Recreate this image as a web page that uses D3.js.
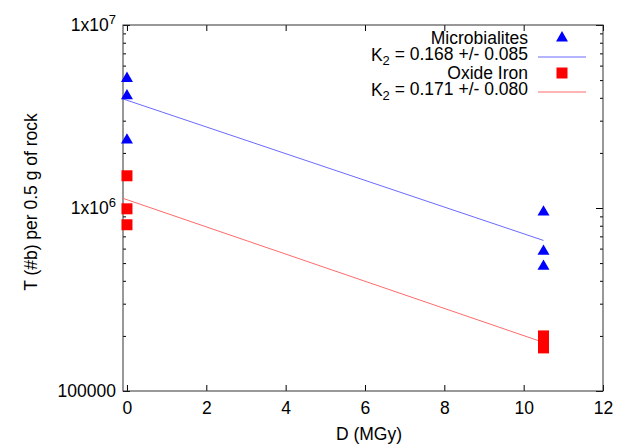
<!DOCTYPE html>
<html>
<head>
<meta charset="utf-8">
<script src="https://cdn.jsdelivr.net/npm/d3@7"></script>
<style>
  body { margin: 0; background: #fff; }
  svg { font-family: "Liberation Sans", Arial, sans-serif; }
</style>
</head>
<body>
<svg id="chart"></svg>
<script>
// data
const doseMicro = [0, 0, 0, 10.5, 10.5, 10.5]
const countMicro = [5.1e6, 4.1e6, 2.35e6, 9.5e5, 5.8e5, 4.8e5]
const doseOxide = [0, 0, 0, 10.5, 10.5, 10.5]
const countOxide = [1.5e6, 9.9e5, 8.1e5, 2.0e5, 1.85e5, 1.72e5]

// exponential fits T = A * exp(-K2 * D)
const fitNames = ["Microbialites", "Oxide Iron"]
const fitA = [3.88e6, 1.11e6]
const fitK = [0.168, 0.171]
const fitErr = [0.085, 0.080]
const fitRange = [-0.1, 10.5]

const xTicks = [0, 2, 4, 6, 8, 10, 12]
const yTicks = [1e5, 1e6, 1e7]

const width = 622
const height = 444
const pLeft = 123, pRight = 603, pTop = 25, pBottom = 391

const svg = d3.select("#chart")
  .attr("width", width)
  .attr("height", height)

const x = d3.scaleLinear().domain([-0.1, 12]).range([pLeft, pRight])
const y = d3.scaleLog().domain([1e5, 1e7]).range([pBottom, pTop])

const minor = []
for (let dec = 1e5; dec < 1e7; dec *= 10) {
  for (let m = 2; m <= 9; m++) minor.push(dec * m)
}

const font = 17.5

// axes with inward ticks, mirrored on top/right
svg.append("g")
  .attr("transform", "translate(0," + pBottom + ")")
  .call(d3.axisBottom(x).tickValues(xTicks).tickSizeInner(-6).tickSizeOuter(0).tickPadding(11))
  .call(g => g.select(".domain").remove())
  .call(g => g.selectAll("text").style("font-size", font + "px").attr("fill", "#000"))

svg.append("g")
  .attr("transform", "translate(0," + pTop + ")")
  .call(d3.axisTop(x).tickValues(xTicks).tickSizeInner(-6).tickSizeOuter(0).tickFormat(""))
  .call(g => g.select(".domain").remove())

svg.append("g")
  .attr("transform", "translate(" + pLeft + ",0)")
  .call(d3.axisLeft(y).tickValues(yTicks).tickSizeInner(-7).tickSizeOuter(0).tickPadding(7).tickFormat(""))
  .call(g => g.select(".domain").remove())
  .call(g => g.selectAll(".tick text").each(function (d) {
    const t = d3.select(this).style("font-size", font + "px").attr("fill", "#000")
    const e = Math.round(Math.log10(d))
    if (e === 5) {
      t.text("100000")
    } else {
      t.append("tspan").text("1x10")
      t.append("tspan").attr("dy", "-0.55em").style("font-size", "13px").text(e)
    }
  }))

svg.append("g")
  .attr("transform", "translate(" + pLeft + ",0)")
  .call(d3.axisLeft(y).tickValues(minor).tickSizeInner(-3).tickSizeOuter(0).tickFormat(""))
  .call(g => g.select(".domain").remove())

svg.append("g")
  .attr("transform", "translate(" + pRight + ",0)")
  .call(d3.axisRight(y).tickValues(yTicks).tickSizeInner(-7).tickSizeOuter(0).tickFormat(""))
  .call(g => g.select(".domain").remove())

svg.append("g")
  .attr("transform", "translate(" + pRight + ",0)")
  .call(d3.axisRight(y).tickValues(minor).tickSizeInner(-3).tickSizeOuter(0).tickFormat(""))
  .call(g => g.select(".domain").remove())

// frame
svg.append("rect")
  .attr("x", pLeft).attr("y", pTop)
  .attr("width", pRight - pLeft).attr("height", pBottom - pTop)
  .attr("fill", "none")
  .attr("stroke", "#333")
  .attr("stroke-width", 1)

// axis titles
svg.append("text")
  .attr("x", 369)
  .attr("y", 440)
  .attr("text-anchor", "middle")
  .style("font-size", font + "px")
  .text("D (MGy)")

svg.append("text")
  .attr("transform", "translate(37," + 202 + ") rotate(-90)")
  .attr("text-anchor", "middle")
  .style("font-size", font + "px")
  .text("T (#b) per 0.5 g of rock")

// fit lines
const lineColors = ["#6a6aff", "#ff6a6a"]
const fitLine = d3.line().x(d => x(d[0])).y(d => y(d[1]))

fitA.forEach((a, i) => {
  const pts = fitRange.map(d => [d, a * Math.exp(-fitK[i] * d)])
  svg.append("path")
    .attr("d", fitLine(pts))
    .attr("fill", "none")
    .attr("stroke", lineColors[i])
    .attr("stroke-width", 1)
})

// points
const tri = d3.symbol().type(d3.symbolTriangle).size(62)
const sq = d3.symbol().type(d3.symbolSquare).size(121)

svg.append("g").selectAll("path")
  .data(d3.zip(doseMicro, countMicro))
  .enter().append("path")
  .attr("d", tri)
  .attr("transform", d => "translate(" + x(d[0]) + "," + y(d[1]) + ")")
  .attr("fill", "#0000ff")

svg.append("g").selectAll("path")
  .data(d3.zip(doseOxide, countOxide))
  .enter().append("path")
  .attr("d", sq)
  .attr("transform", d => "translate(" + x(d[0]) + "," + y(d[1]) + ")")
  .attr("fill", "#ff0000")

// legend
const legend = svg.append("g")
const textX = 528
const rowY = [44, 61, 79, 96]

fitNames.forEach((name, i) => {
  const y1 = rowY[i * 2], y2 = rowY[i * 2 + 1]
  legend.append("text")
    .attr("x", textX).attr("y", y1)
    .attr("text-anchor", "end")
    .style("font-size", font + "px")
    .text(name)
  legend.append("path")
    .attr("d", i === 0 ? tri : sq)
    .attr("transform", "translate(562," + (y1 - 6) + ")")
    .attr("fill", i === 0 ? "#0000ff" : "#ff0000")

  const k = legend.append("text")
    .attr("x", textX).attr("y", y2)
    .attr("text-anchor", "end")
    .style("font-size", font + "px")
  k.append("tspan").text("K")
  k.append("tspan").attr("dy", "0.3em").style("font-size", "13px").text("2")
  k.append("tspan").attr("dy", "-0.3em").text(" = " + fitK[i].toFixed(3) + " +/- " + fitErr[i].toFixed(3))
  legend.append("line")
    .attr("x1", 538).attr("x2", 586)
    .attr("y1", y2 - 4).attr("y2", y2 - 4)
    .attr("stroke", lineColors[i])
    .attr("stroke-width", 1)
})
</script>
</body>
</html>
